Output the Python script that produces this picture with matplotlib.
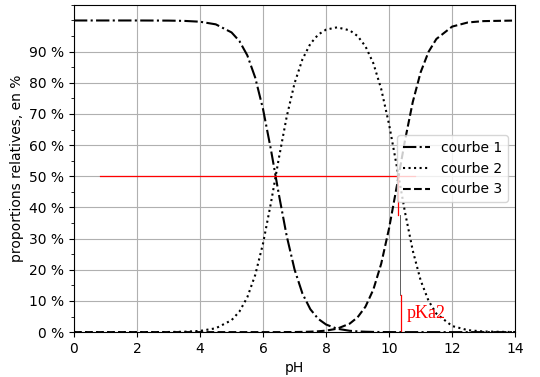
import numpy as np
import matplotlib.pyplot as plt
from matplotlib.ticker import MultipleLocator, FuncFormatter

# valeurs (proportions en %)
ph = [0, 1, 2, 3, 3.5, 4, 4.5, 5, 5.25, 5.5, 5.75, 6, 6.25, 6.5, 6.75, 7, 7.25, 7.5,
      7.75, 8, 8.35, 8.75, 9, 9.25, 9.5, 9.75, 10, 10.25, 10.5, 10.75, 11, 11.25,
      11.5, 12, 12.5, 13, 14]
courbe1 = [100, 100, 100, 99.96, 99.87, 99.6, 98.76, 96.17, 93.39, 88.82, 81.70, 71.53,
           58.55, 44.27, 30.87, 20.07, 12.37, 7.35, 4.26, 2.44, 1.10, 0.43, 0.24, 0.13,
           0.07, 0.03, 0.02, 0, 0, 0, 0, 0, 0, 0, 0, 0, 0]
courbe2 = [0, 0, 0, 0.04, 0.13, 0.4, 1.24, 3.83, 6.61, 11.18, 18.30, 28.47, 41.45,
           55.73, 69.11, 79.89, 87.56, 92.51, 95.47, 97.07, 97.80, 96.84, 95.01, 91.70,
           86.26, 77.99, 66.61, 52.87, 38.68, 26.19, 16.63, 10.09, 5.93, 1.96, 0.63,
           0.20, 0.02]
courbe3 = [0, 0, 0, 0, 0, 0, 0, 0, 0, 0, 0, 0, 0, 0, 0.02, 0.04, 0.08, 0.15, 0.27,
           0.49, 1.10, 2.73, 4.76, 8.17, 13.67, 21.98, 33.38, 47.13, 61.32, 73.81,
           83.37, 89.91, 94.07, 98.04, 99.37, 99.80, 99.98]

pka2 = 10.33

fig = plt.figure(figsize=(5.4, 3.77), dpi=100)
ax = fig.add_axes([0.137, 0.119, 0.817, 0.868])

ax.plot(ph, courbe1, '-.', color='black', lw=1.5, label='courbe 1')
ax.plot(ph, courbe2, ':', color='black', lw=1.5, label='courbe 2')
ax.plot(ph, courbe3, '--', color='black', lw=1.5, label='courbe 3')

# tracé de lecture du pKa2
ax.plot([0.83, 10.83], [50, 50], color='red', lw=0.9)
ax.plot([pka2 - 0.04, pka2 - 0.04], [37.7, 50], color='red', lw=0.9)
ax.plot([pka2, pka2], [11.9, 37.7], color='#444444', lw=0.6)
ax.plot([pka2 + 0.04, pka2 + 0.04], [0, 11.9], color='red', lw=0.9)
ax.text(10.55, 4.5, 'pKa2', color='red', fontsize=13, family='Liberation Serif')

ax.set_xlim(0, 14)
ax.set_ylim(0, 105)
ax.set_xticks(np.arange(0, 15, 2))
ax.set_yticks(np.arange(0, 100, 10))
ax.yaxis.set_minor_locator(MultipleLocator(5))
ax.yaxis.set_major_formatter(FuncFormatter(lambda v, p: f'{v:.0f} %'))
ax.grid(True, which='major', color='#b0b0b0', lw=0.8)
ax.set_xlabel('pH')
ax.set_ylabel('proportions relatives, en %')
ax.legend(loc='center right')

plt.savefig('out.png', dpi=100)
plt.close()
